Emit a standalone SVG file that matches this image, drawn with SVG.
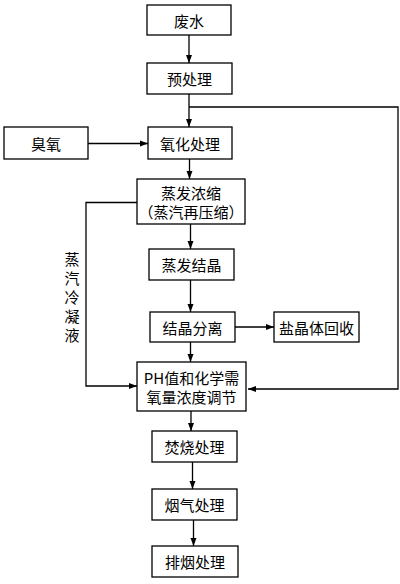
<svg xmlns="http://www.w3.org/2000/svg" width="400" height="584" viewBox="0 0 400 584">
<style>
.box{fill:#fff;stroke:#000;stroke-width:1.3}
.t{font-family:"Noto Sans CJK SC","Noto Sans CJK JP",sans-serif;font-size:15px;fill:#000;text-anchor:middle;dominant-baseline:central}
.c{fill:none;stroke:#000;stroke-width:1.3}
</style>
<defs>
<marker id="a" viewBox="0 0 8 8" refX="8" refY="4" markerWidth="8" markerHeight="8" markerUnits="userSpaceOnUse" orient="auto">
<path d="M0,1 L8,4 L0,7 Z" fill="#000"/>
</marker>
</defs>
<rect width="400" height="584" fill="#fff"/>
<g id="connectors">
<line class="c" x1="189" y1="35" x2="189" y2="63" marker-end="url(#a)"/>
<line class="c" x1="189" y1="94" x2="189" y2="127" marker-end="url(#a)"/>
<polyline class="c" points="189,107 398,107 398,389 248,389" marker-end="url(#a)"/>
<line class="c" x1="88" y1="143.5" x2="148" y2="143.5" marker-end="url(#a)"/>
<line class="c" x1="189.5" y1="159" x2="189.5" y2="179" marker-end="url(#a)"/>
<polyline class="c" points="137,202.5 86,202.5 86,386 137,386" marker-end="url(#a)"/>
<line class="c" x1="190.5" y1="224" x2="190.5" y2="249" marker-end="url(#a)"/>
<line class="c" x1="190.5" y1="280" x2="190.5" y2="312" marker-end="url(#a)"/>
<line class="c" x1="235" y1="327" x2="274" y2="327" marker-end="url(#a)"/>
<line class="c" x1="190.5" y1="342" x2="190.5" y2="362" marker-end="url(#a)"/>
<line class="c" x1="191" y1="411" x2="191" y2="431" marker-end="url(#a)"/>
<line class="c" x1="192.5" y1="462" x2="192.5" y2="489" marker-end="url(#a)"/>
<line class="c" x1="193.5" y1="520" x2="193.5" y2="546" marker-end="url(#a)"/>
</g>
<g id="label-condensate">
<text class="t" x="72" y="258">蒸</text>
<text class="t" x="72" y="277">汽</text>
<text class="t" x="72" y="296">冷</text>
<text class="t" x="72" y="315">凝</text>
<text class="t" x="72" y="334">液</text>
</g>
<g id="n-wastewater"><rect class="box" x="147" y="5" width="84" height="30"/><text class="t" x="189" y="20">废水</text></g>
<g id="n-pretreat"><rect class="box" x="147" y="63" width="85" height="31"/><text class="t" x="189.5" y="78.5">预处理</text></g>
<g id="n-ozone"><rect class="box" x="4" y="127" width="84" height="32"/><text class="t" x="46" y="143">臭氧</text></g>
<g id="n-oxidation"><rect class="box" x="148" y="127" width="84" height="32"/><text class="t" x="190" y="143">氧化处理</text></g>
<g id="n-evap-conc"><rect class="box" x="137" y="179" width="108" height="45"/><text class="t" x="191" y="192.5">蒸发浓缩</text><text class="t" x="191" y="211.5">（蒸汽再压缩）</text></g>
<g id="n-evap-cryst"><rect class="box" x="149" y="249" width="85" height="31"/><text class="t" x="191.5" y="264.5">蒸发结晶</text></g>
<g id="n-cryst-sep"><rect class="box" x="150" y="312" width="85" height="30"/><text class="t" x="192.5" y="327">结晶分离</text></g>
<g id="n-salt"><rect class="box" x="274" y="312" width="85" height="30"/><text class="t" x="316.5" y="327">盐晶体回收</text></g>
<g id="n-ph"><rect class="box" x="137" y="362" width="109" height="49"/><text class="t" x="191.5" y="377.5">PH值和化学需</text><text class="t" x="191.5" y="396.5">氧量浓度调节</text></g>
<g id="n-incin"><rect class="box" x="152" y="431" width="85" height="31"/><text class="t" x="194.5" y="446.5">焚烧处理</text></g>
<g id="n-flue"><rect class="box" x="152" y="489" width="85" height="31"/><text class="t" x="194.5" y="504.5">烟气处理</text></g>
<g id="n-exhaust"><rect class="box" x="152" y="546" width="86" height="31"/><text class="t" x="195" y="561.5">排烟处理</text></g>
</svg>
